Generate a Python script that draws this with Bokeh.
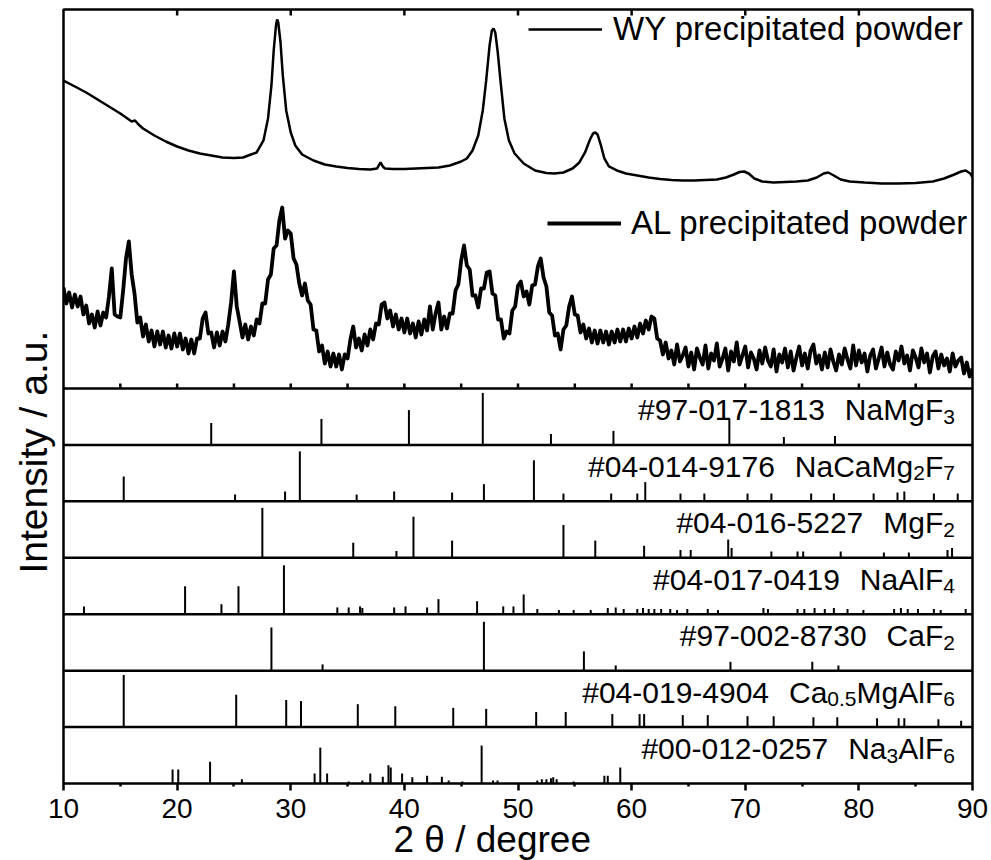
import numpy as np
from bokeh.plotting import figure
from bokeh.models import (Range1d, FixedTicker, Label, Legend, LegendItem, Span, Title)
from bokeh.embed import file_html
from bokeh.resources import INLINE

FONT = "Liberation Sans"

# ---------------- axis ticks ----------------
X_TICKS = [10, 20, 30, 40, 50, 60, 70, 80, 90]
X_TICK_LABELS = ["10", "20", "30", "40", "50", "60", "70", "80", "90"]
X_MINOR = [15, 25, 35, 45, 55, 65, 75, 85]
X_TITLE = "2 θ / degree"
Y_TITLE = "Intensity / a.u."

# ---------------- WY precipitated powder (2theta, intensity a.u.) ----------------
WY_2THETA = [10.0, 11.0, 12.0, 13.0, 14.0, 15.0, 15.5, 16.0, 16.3, 16.6, 17.0, 18.0,
             19.0, 20.0, 21.0, 22.0, 23.0, 24.0, 25.0, 25.8, 26.5, 27.0, 27.6, 28.0,
             28.3, 28.5, 28.7, 28.8, 28.9, 29.1, 29.3, 29.6, 30.0, 30.4, 31.0, 32.0,
             33.0, 34.0, 35.0, 36.0, 37.0, 37.6, 37.9, 38.1, 38.3, 39.0, 40.0, 41.0,
             42.0, 43.0, 44.0, 45.0, 45.5, 46.0, 46.5, 46.9, 47.2, 47.5, 47.7, 47.85,
             48.0, 48.2, 48.5, 48.8, 49.2, 49.7, 50.5, 51.5, 52.5, 53.2, 54.0, 54.8,
             55.4, 55.9, 56.3, 56.6, 56.8, 57.0, 57.3, 57.6, 58.0, 58.7, 59.5, 60.5,
             61.5, 62.5, 63.5, 64.5, 65.5, 66.5, 67.5, 68.3, 69.0, 69.5, 69.9, 70.3,
             70.8, 71.5, 72.5, 73.5, 74.5, 75.5, 76.3, 76.9, 77.3, 77.8, 78.4, 79.2,
             80.5, 82.0, 83.5, 85.0, 86.5, 87.5, 88.4, 89.0, 89.4, 89.8, 90.0]
WY_INT = [308, 302, 296, 289, 282, 275, 271, 267, 268, 264, 260, 253,
          247, 242, 238, 235, 233, 231, 230.5, 231, 234, 236, 248, 270,
          303, 338, 363, 369, 366, 346, 313, 278, 256, 243, 234, 228,
          224, 222, 220.5, 219.5, 219, 220, 226, 222, 220, 219.5, 219.5, 220,
          220.5, 221, 223, 227, 230, 238, 253, 278, 308, 343, 358, 360,
          356, 338, 303, 270, 248, 235, 225, 218, 215.5, 215, 216, 220,
          226, 236, 248, 255, 256, 254, 243, 230, 222, 218, 215, 213,
          211, 209.5, 208.5, 208, 208, 208.5, 209, 211, 214, 216.5, 217, 215,
          210, 207, 206, 206.5, 207, 208, 211, 215, 216, 213, 209, 207,
          206, 205, 205, 205.5, 207, 210, 214, 217, 218, 215, 211]

# ---------------- AL precipitated powder (step scan) ----------------
AL_START = 10.0
AL_STEP = 0.25
AL_INT = [
    101, 85, 96, 81,     # 10
    94, 82, 92, 74,      # 11
    83, 65, 74, 61,      # 12
    77, 63, 76, 71,      # 13
    92, 120, 74, 72,     # 14
    71, 98, 130, 147,    # 15
    114, 95, 66, 71,     # 16
    52, 64, 47, 58,      # 17
    42, 57, 44, 57,      # 18
    41, 53, 40, 55,      # 19
    42, 55, 39, 50,      # 20
    35, 49, 35, 50,      # 21
    50, 70, 76, 55,      # 22
    56, 41, 56, 43,      # 23
    57, 47, 64, 86,      # 24
    117, 82, 67, 51,     # 25
    64, 49, 62, 53,      # 26
    69, 65, 85, 85,      # 27
    109, 114, 140, 143,  # 28
    168, 181, 150, 158,  # 29
    155, 130, 124, 105,  # 30
    93, 105, 88, 84,     # 31
    59, 58, 37, 43,      # 32
    25, 37, 22, 35,      # 33
    22, 34, 19, 34,      # 34
    30, 49, 62, 41,      # 35
    50, 38, 54, 43,      # 36
    59, 49, 65, 64,      # 37
    84, 86, 70, 78,      # 38
    62, 74, 59, 70,      # 39
    56, 70, 55, 65,      # 40
    51, 67, 54, 69,      # 41
    58, 82, 59, 75,      # 42
    86, 59, 72, 60,      # 43
    75, 75, 98, 104,     # 44
    128, 143, 123, 119,  # 45
    93, 93, 81, 100,     # 46
    100, 116, 117, 95,   # 47
    93, 69, 69, 50,      # 48
    57, 55, 78, 82,      # 49
    103, 107, 92, 97,    # 50
    84, 103, 104, 122,   # 51
    130, 111, 102, 76,   # 52
    73, 53, 55, 39,      # 53
    59, 63, 82, 92,      # 54
    74, 73, 56, 64,      # 55
    50, 60, 46, 58,      # 56
    45, 58, 46, 57,      # 57
    44, 57, 46, 59,      # 58
    47, 59, 47, 60,      # 59
    50, 62, 51, 65,      # 60
    55, 68, 59, 72,      # 61
    70, 50, 48, 34,      # 62
    46, 30, 38, 24,      # 63
    44, 27, 33, 41,      # 64
    22, 36, 19, 40,      # 65
    31, 24, 43, 20,      # 66
    35, 28, 45, 22,      # 67
    30, 40, 18, 37,      # 68
    27, 46, 24, 33,      # 69
    42, 21, 36, 30,      # 70
    19, 38, 25, 41,      # 71
    28, 22, 39, 17,      # 72
    34, 26, 40, 21,      # 73
    37, 18, 31, 42,      # 74
    23, 35, 20, 38,      # 75
    44, 25, 33, 19,      # 76
    36, 21, 39, 27,      # 77
    18, 34, 24, 40,      # 78
    29, 20, 43, 23,      # 79
    38, 26, 35, 17,      # 80
    33, 39, 20, 30,      # 81
    41, 22, 36, 24,      # 82
    19, 37, 28, 42,      # 83
    25, 33, 18, 38,      # 84
    31, 21, 40, 26,      # 85
    35, 16, 32, 37,      # 86
    20, 34, 23, 30,      # 87
    17, 35, 22, 28,      # 88
    31, 15, 26, 12,      # 89
    20,                  # 90
]

# ---------------- reference patterns (2theta, relative intensity %) ----------------
NaMgF3_POS = [23.0, 32.7, 40.4, 46.9, 52.9, 58.4, 68.6, 73.4, 77.9]
NaMgF3_INT = [42, 50, 67, 100, 21, 27, 50, 15, 17]

NaCaMg2F7_POS = [15.3, 25.1, 29.5, 30.8, 35.8, 39.1, 44.2, 47.0, 51.4, 54.0, 58.2, 60.5,
                 61.2, 64.3, 66.4, 70.2, 72.3, 75.8, 77.8, 81.3, 83.4, 84.0, 86.6, 88.7]
NaCaMg2F7_INT = [48, 13, 19, 96, 13, 19, 17, 33, 79, 15, 15, 15,
                 37, 15, 15, 15, 15, 15, 15, 15, 17, 19, 15, 15]

MgF2_POS = [27.5, 35.5, 39.3, 40.8, 44.2, 54.0, 56.8, 61.1, 64.3, 65.2, 68.5, 68.8,
            72.3, 74.6, 75.1, 78.4, 82.2, 84.4, 87.8, 88.2]
MgF2_INT = [96, 29, 13, 79, 33, 63, 33, 23, 15, 15, 35, 19,
            12, 12, 12, 12, 10, 10, 15, 19]

NaAlF4_POS = [11.8, 20.7, 23.9, 25.4, 29.4, 34.1, 35.1, 36.1, 36.3, 39.1,
              40.1, 42.0, 43.0, 46.4, 48.7, 49.6, 50.5, 51.7, 53.6, 54.9,
              56.4, 57.9, 58.6, 59.3, 60.5, 61.0, 61.5, 62.0, 62.6, 63.4,
              64.0, 64.9, 66.7, 67.6, 71.6, 72.0, 74.6, 75.2, 76.1, 77.0,
              77.8, 79.0, 80.4, 83.1, 83.7, 84.3, 85.2, 86.6, 87.2, 89.4]
NaAlF4_INT = [15, 54, 19, 54, 94, 13, 13, 15, 12, 13,
              15, 13, 29, 25, 15, 15, 38, 10, 8, 8,
              8, 12, 13, 10, 10, 12, 10, 10, 10, 10,
              8, 10, 10, 8, 12, 10, 10, 10, 12, 10,
              12, 10, 8, 10, 12, 10, 10, 10, 8, 10]

CaF2_POS = [28.3, 32.8, 47.0, 55.8, 58.6, 68.7, 75.9, 78.2]
CaF2_INT = [83, 12, 94, 37, 10, 17, 17, 10]

Ca05MgAlF6_POS = [15.3, 25.2, 29.6, 30.9, 35.9, 39.2, 44.3, 47.2, 51.6, 54.2, 58.3, 60.7,
                  61.1, 64.5, 66.7, 70.2, 72.5, 76.0, 78.1, 81.6, 83.5, 84.0, 87.0, 89.0]
Ca05MgAlF6_INT = [100, 62, 52, 50, 44, 40, 37, 35, 29, 29, 25, 25,
                  25, 23, 23, 21, 21, 19, 19, 17, 17, 17, 15, 12]

Na3AlF6_POS = [19.6, 20.1, 22.9, 25.7, 32.1, 32.6, 33.2, 35.1, 36.3, 37.0,
               38.1, 38.6, 38.8, 39.8, 40.7, 42.0, 43.3, 43.9, 45.1, 46.8,
               47.8, 48.2, 51.7, 52.1, 52.5, 52.9, 53.1, 53.4, 54.9, 57.6,
               57.9, 59.0]
Na3AlF6_INT = [27, 27, 42, 8, 19, 69, 19, 4, 6, 19,
               13, 35, 31, 19, 12, 15, 13, 6, 4, 73,
               6, 6, 6, 8, 8, 10, 12, 8, 4, 15,
               15, 31]

PDF_CODES = ["#97-017-1813", "#04-014-9176", "#04-016-5227", "#04-017-0419",
             "#97-002-8730", "#04-019-4904", "#00-012-0257"]
# (text, is_subscript) pieces for each formula
PDF_FORMULAS = [
    [("NaMgF", 0), ("3", 1)],
    [("NaCaMg", 0), ("2", 1), ("F", 0), ("7", 1)],
    [("MgF", 0), ("2", 1)],
    [("NaAlF", 0), ("4", 1)],
    [("CaF", 0), ("2", 1)],
    [("Ca", 0), ("0.5", 1), ("MgAlF", 0), ("6", 1)],
    [("Na", 0), ("3", 1), ("AlF", 0), ("6", 1)],
]
PHASE_POS = [NaMgF3_POS, NaCaMg2F7_POS, MgF2_POS, NaAlF4_POS, CaF2_POS,
             Ca05MgAlF6_POS, Na3AlF6_POS]
PHASE_INT = [NaMgF3_INT, NaCaMg2F7_INT, MgF2_INT, NaAlF4_INT, CaF2_INT,
             Ca05MgAlF6_INT, Na3AlF6_INT]

# ---------------- layout ----------------
FRAME_H = 774.0
N_PHASE = len(PHASE_POS)
PANEL_H = 56.43
TOP_BASE = N_PHASE * PANEL_H
STICK_SCALE = 0.52
MAIN_FS = 30
SUB_FS = 21
SUB_DROP = 7
CODE_GAP = 20
LABEL_X = 88.45
LABEL_DY = 35.0

# Liberation Sans (Arial-metric) advance widths, per 1000 em
ADV = {'#': 556, '-': 333, '.': 278, ' ': 278, 'N': 722, 'a': 556, 'M': 833,
       'g': 556, 'F': 611, 'C': 722, 'A': 667, 'l': 222}
for d in "0123456789":
    ADV[d] = 556


def text_w(s, fs):
    return sum(ADV[c] for c in s) / 1000.0 * fs


p = figure(frame_width=909, frame_height=774, output_backend="svg",
           toolbar_location=None,
           x_range=Range1d(10, 90), y_range=Range1d(0, FRAME_H),
           y_axis_location=None,
           min_border_left=63, min_border_right=19, min_border_top=9,
           min_border_bottom=77)
p.xgrid.visible = False
p.ygrid.visible = False
p.background_fill_color = "white"
p.border_fill_color = "white"
p.outline_line_color = "black"
p.outline_line_width = 2.5

xa = p.xaxis[0]
xa.ticker = FixedTicker(ticks=X_TICKS, minor_ticks=X_MINOR)
xa.major_label_overrides = {t: l for t, l in zip(X_TICKS, X_TICK_LABELS)}
xa.axis_line_color = None
xa.major_tick_in = 0
xa.major_tick_out = 7
xa.minor_tick_in = 0
xa.minor_tick_out = 3
xa.major_tick_line_width = 2.5
xa.minor_tick_line_width = 2.5
xa.major_label_standoff = 8
xa.major_label_text_font = FONT
xa.major_label_text_font_size = "28px"
xa.major_label_text_color = "black"

p.add_layout(Title(text=X_TITLE, align="left", offset=330, standoff=-8,
                   text_font=FONT, text_font_size="37px", text_font_style="normal",
                   text_color="black"), "below")
p.add_layout(Title(text=Y_TITLE, align="left", offset=210, standoff=17,
                   text_font=FONT, text_font_size="39px", text_font_style="normal",
                   text_color="black"), "left")

# inward ticks along the top edge
top_t = X_TICKS[1:-1]
p.segment(x0=top_t, y0=[FRAME_H] * len(top_t), x1=top_t,
          y1=[FRAME_H - 6] * len(top_t), line_color="black", line_width=2.5)

# separators between panels
for k in range(1, N_PHASE + 1):
    p.add_layout(Span(location=k * PANEL_H, dimension="width",
                      line_color="black", line_width=2.5))

# inward ticks on the lower edge of the top panel
inner = sorted(X_TICKS[1:-1] + X_MINOR)
p.segment(x0=inner, y0=[TOP_BASE] * len(inner), x1=inner,
          y1=[TOP_BASE + 5] * len(inner), line_color="black", line_width=2.5)

# measured patterns
r_wy = p.line(WY_2THETA, np.array(WY_INT) + TOP_BASE, line_color="black",
              line_width=2.5)
al_x = AL_START + AL_STEP * np.arange(len(AL_INT))
r_al = p.line(al_x, np.array(AL_INT) + TOP_BASE, line_color="black",
              line_width=3.8, line_join="round")

for label, rend, loc, standoff in [("WY precipitated powder", r_wy, (465, 735), 11),
                                   ("AL precipitated powder", r_al, (484, 541), 10)]:
    leg = Legend(items=[LegendItem(label=label, renderers=[rend])], location=loc,
                 glyph_width=74, glyph_height=30, label_height=30,
                 label_standoff=standoff, padding=0, margin=0, spacing=0,
                 border_line_color=None, background_fill_alpha=0,
                 label_text_font=FONT, label_text_font_size="33px",
                 label_text_color="black")
    p.add_layout(leg)

# reference stick patterns and their labels
for i in range(N_PHASE):
    base = (N_PHASE - 1 - i) * PANEL_H
    pos = PHASE_POS[i]
    hts = base + np.array(PHASE_INT[i], dtype=float) * STICK_SCALE
    p.segment(x0=pos, y0=[base] * len(pos), x1=pos, y1=hts,
              line_color="black", line_width=2)

    pieces = [(PDF_CODES[i], 0)]
    widths = [text_w(PDF_CODES[i], MAIN_FS) + CODE_GAP]
    for txt, sub in PDF_FORMULAS[i]:
        pieces.append((txt, sub))
        widths.append(text_w(txt, SUB_FS if sub else MAIN_FS))
    cursor = -sum(widths)
    for (txt, sub), w in zip(pieces, widths):
        p.add_layout(Label(x=LABEL_X, y=base + LABEL_DY, x_offset=cursor,
                           y_offset=-SUB_DROP if sub else 0, text=txt,
                           text_font=FONT,
                           text_font_size=f"{SUB_FS if sub else MAIN_FS}px",
                           text_align="left", text_baseline="alphabetic",
                           text_color="black"))
        cursor += w

open("out.html", "w").write(file_html(p, INLINE))
